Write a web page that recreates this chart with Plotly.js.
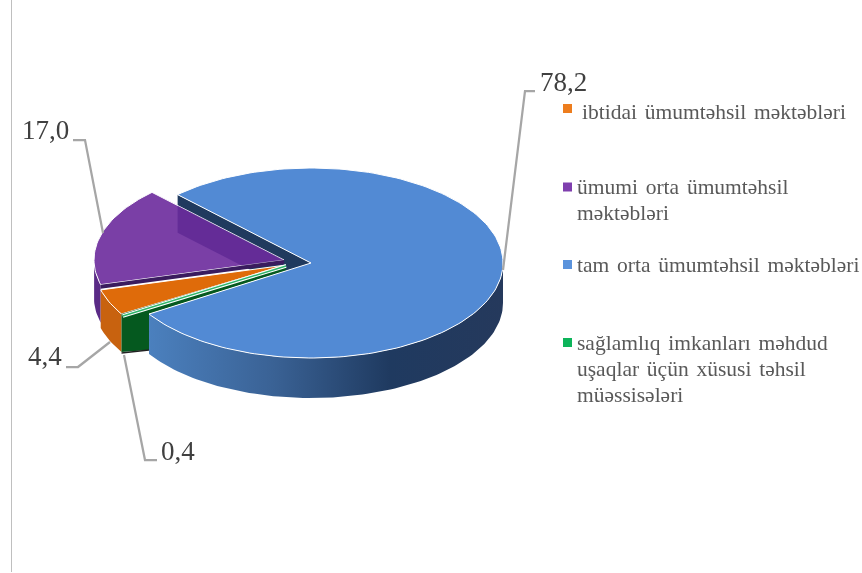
<!DOCTYPE html>
<html>
<head>
<meta charset="utf-8">
<script src="https://cdn.plot.ly/plotly-3.0.1.min.js"></script>
<style>
html,body{margin:0;padding:0;background:#fff;}
#chart{width:862px;height:573px;filter:blur(0.45px);}
.annotation-text{word-spacing:2.4px;}
</style>
</head>
<body>
<div id="chart"></div>
<script>
// ---- data ----
const categories = [
  'ibtidai ümumtəhsil məktəbləri',
  'ümumi orta ümumtəhsil\nməktəbləri',
  'tam orta ümumtəhsil məktəbləri',
  'sağlamlıq imkanları məhdud\nuşaqlar üçün xüsusi təhsil\nmüəssisələri'
];
const values = [4.4, 17.0, 78.2, 0.4];
const topColors = ['#DF6B0A', '#7A3FA6', '#528AD4', '#2DB56A'];
const legendColors = ['#ED7D1E', '#7F3FAE', '#5B93DC', '#0DB45A'];

// ---- pie geometry: angles follow from the values ----
const RX = 192, RY = 95, DEPTH = 38, BLUE_DEPTH = 40, PURPLE_RX = 190;
const blueEndDeg = 134;               // where the big slice ends (math degrees)
const sweep = v => v / 100 * 360;
const blueStart = blueEndDeg - sweep(values[2]) + 360;
const greenEnd = blueStart - sweep(values[3]);
const orangeEnd = greenEnd - sweep(values[0]);
const purpleEnd = orangeEnd - sweep(values[1]);

const cBlue = [311, 263], cOrange = [286, 265], cPurple = [284, 260];
const pt = (c, deg, rx = RX) => [c[0] + rx * Math.cos(deg * Math.PI / 180), c[1] - RY * (rx / RX) * Math.sin(deg * Math.PI / 180)];
function arc(c, a, b, rx) {
  const n = Math.max(2, Math.ceil(Math.abs(b - a) / 1.5)), out = [];
  for (let i = 0; i <= n; i++) out.push(pt(c, a + (b - a) * i / n, rx));
  return out;
}
const down = (p, d = DEPTH) => [p[0], p[1] + d];
function poly(points, fill, extra = {}) {
  return Object.assign({
    type: 'scatter', mode: 'lines', x: points.concat([points[0]]).map(p => p[0]), y: points.concat([points[0]]).map(p => p[1]),
    fill: 'toself', fillcolor: fill, line: {width: 0, color: fill}, hoverinfo: 'skip', showlegend: false
  }, extra);
}
function wedge(c, a, b, fill, rx) {
  return poly([c].concat(arc(c, a, b, rx)), fill, {line: {width: 1, color: '#ffffff'}});
}
function wall(c, a, b, fill, extra, rx, depth = DEPTH) {
  const top = arc(c, a, b, rx);
  return poly(top.concat(top.slice().reverse().map(p => down(p, depth))), fill, extra);
}
function cross(p1, p2, p3, p4) {
  const d = (p1[0]-p2[0])*(p3[1]-p4[1]) - (p1[1]-p2[1])*(p3[0]-p4[0]);
  const t = ((p1[0]-p3[0])*(p3[1]-p4[1]) - (p1[1]-p3[1])*(p3[0]-p4[0])) / d;
  return [p1[0] + t*(p2[0]-p1[0]), p1[1] + t*(p2[1]-p1[1])];
}
function stroke(a, b, color, width) {
  return {type: 'scatter', mode: 'lines', x: [a[0], b[0]], y: [a[1], b[1]], line: {color, width}, hoverinfo: 'skip', showlegend: false};
}

const blueEndPt = pt(cBlue, blueEndDeg), blueStartPt = pt(cBlue, blueStart);
const greenOuter = pt(cOrange, greenEnd);
const purpleTop = pt(cPurple, purpleEnd, PURPLE_RX), purpleLow = pt(cPurple, orangeEnd, PURPLE_RX);
const traces = [];

// blue slice cut face behind the purple slice
traces.push(poly([blueEndPt, cBlue, down(cBlue), down(blueEndPt)], '#203A5E'));
// purple side + top
traces.push(wall(cPurple, 182, orangeEnd, '#5A2A86', {}, PURPLE_RX));
traces.push(wedge(cPurple, orangeEnd, purpleEnd, topColors[1], PURPLE_RX));
// blue cut face seen through the purple slice
traces.push(poly([
  cross(cPurple, purpleTop, blueEndPt, down(blueEndPt)),
  down(blueEndPt),
  cross(down(blueEndPt), down(cBlue), cPurple, purpleLow),
  cPurple
], 'rgba(70,20,130,0.42)'));
// purple cut face
traces.push(poly([cPurple, purpleLow, down(purpleLow, 4), down(cPurple, 4)], '#3A1C5E'));
// orange side + top
traces.push(wall(cOrange, orangeEnd, greenEnd, '#C8620F'));
traces.push(wedge(cOrange, greenEnd, orangeEnd, topColors[0]));
// green cut faces
traces.push(poly([cOrange, cross(cBlue, blueStartPt, cOrange, down(cOrange, 9)), blueStartPt, greenOuter], '#05591F'));
traces.push(poly([greenOuter, blueStartPt, down(blueStartPt, 36), down(greenOuter, 38)], '#05591F'));
traces.push(stroke(down(greenOuter, 39), down(blueStartPt, 36), '#222222', 1.5));
// green top: a very thin slice, drawn with its white rim
const greenMid = pt(cOrange, (greenEnd + blueStart) / 2);
traces.push(stroke(down(cOrange, 1), down(greenMid, 1), '#ffffff', 3.5));
traces.push(stroke(down(cOrange, 1), down(greenMid, 1), topColors[3], 1.5));
// blue side + top
traces.push(wall(cBlue, blueStart, 360, '#3A6090', {
  fillgradient: {type: 'horizontal', colorscale: [[0, '#4B80BE'], [0.35, '#3A6295'], [0.68, '#1F3A60'], [1, '#25395C']]}
}, RX, BLUE_DEPTH));
traces.push(wedge(cBlue, blueStart - 360, blueEndDeg, topColors[2]));

// leader lines
const leaderColor = '#A6A6A6';
const leaders = [
  [[66, 367], [78, 367], [110, 342]],
  [[73, 140], [85, 140], [103, 233]],
  [[503, 270], [525, 91], [535, 91]],
  [[157, 460], [145, 460], [124, 355]]
];
leaders.forEach(l => traces.push({type: 'scatter', mode: 'lines', x: l.map(p => p[0]), y: l.map(p => p[1]),
  line: {color: leaderColor, width: 2.25}, hoverinfo: 'skip', showlegend: false}));

// legend swatches
const swatchX = 567.5, swatchY = [108.5, 187, 264.5, 342.5];
traces.push({type: 'scatter', mode: 'markers', x: swatchY.map(() => swatchX), y: swatchY,
  marker: {symbol: 'square', size: 9, color: legendColors, line: {width: 0}}, hoverinfo: 'skip', showlegend: false});

// annotations
const annotations = [];
const labelPos = [[26, 356], [20, 130], [538, 82], [159, 451]];
values.forEach((v, i) => annotations.push({
  x: labelPos[i][0], y: labelPos[i][1], xref: 'x', yref: 'y', xanchor: 'left', yanchor: 'middle', showarrow: false,
  text: v.toFixed(1).replace('.', ','), font: {family: 'Liberation Serif', size: 27, color: '#404040'}
}));
const legendTextX = [580, 575, 575, 575];
const legendLineY = [[112], [187, 213], [265], [343, 369, 395]];
categories.forEach((c, i) => c.split('\n').forEach((line, j) => annotations.push({
  x: legendTextX[i], y: legendLineY[i][j], xref: 'x', yref: 'y', xanchor: 'left', yanchor: 'middle', showarrow: false,
  text: line, font: {family: 'Liberation Serif', size: 21.5, color: '#595959'}
})));

const layout = {
  width: 862, height: 573, margin: {l: 0, r: 0, t: 0, b: 0},
  paper_bgcolor: '#ffffff', plot_bgcolor: '#ffffff', showlegend: false,
  xaxis: {range: [0, 862], visible: false, fixedrange: true},
  yaxis: {range: [573, 0], visible: false, fixedrange: true},
  annotations,
  shapes: [{type: 'line', xref: 'x', yref: 'y', x0: 11.5, x1: 11.5, y0: 0, y1: 572, line: {color: '#BFBFBF', width: 1}}]
};
Plotly.newPlot('chart', traces, layout, {displayModeBar: false, staticPlot: true});
</script>
</body>
</html>
